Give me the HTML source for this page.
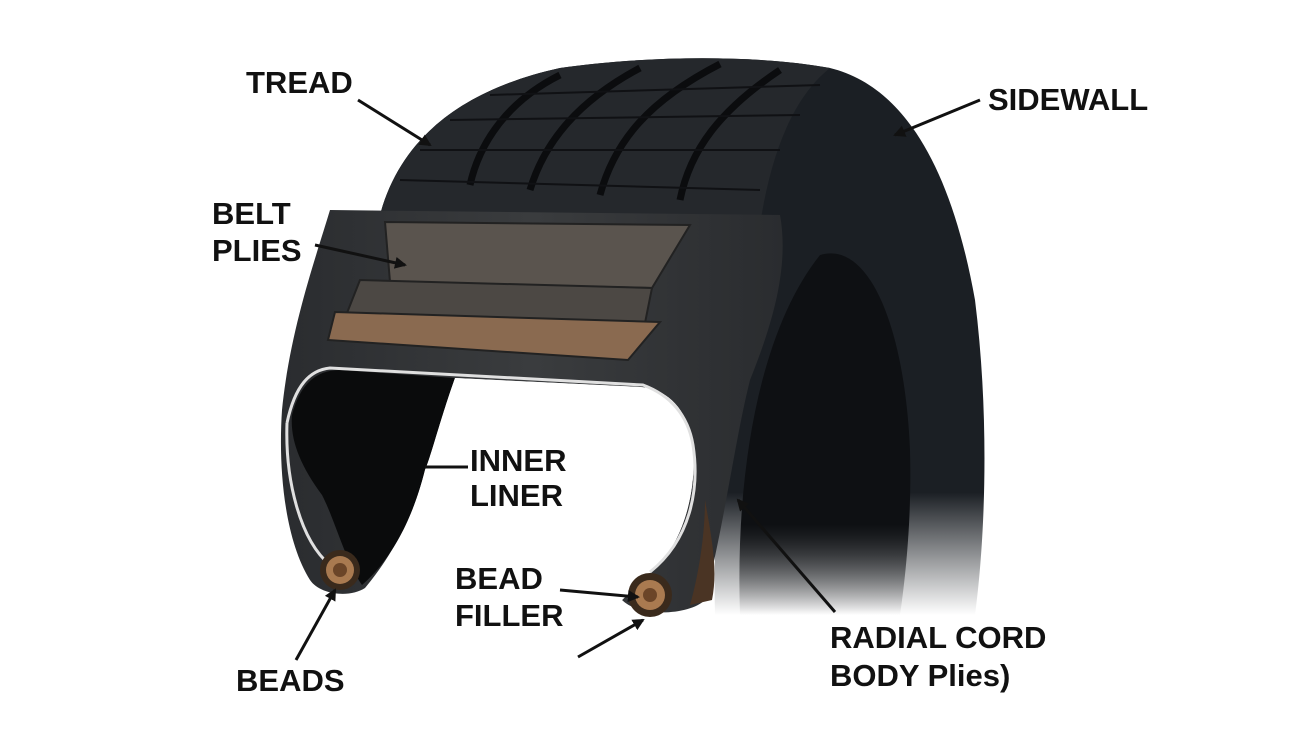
<!DOCTYPE html>
<html><head><meta charset="utf-8"><style>
html,body{margin:0;padding:0;background:#fff;}
svg{display:block}
text{font-family:"Liberation Sans",sans-serif;font-weight:bold;font-size:31px;fill:#111}
</style></head><body>
<svg width="1300" height="742" viewBox="0 0 1300 742" xmlns="http://www.w3.org/2000/svg">
<defs>
<linearGradient id="fade" x1="0" y1="0" x2="0" y2="1">
<stop offset="0.78" stop-color="#1b1f24"/><stop offset="1" stop-color="#1b1f24" stop-opacity="0"/>
</linearGradient>
<linearGradient id="fade2" x1="0" y1="0" x2="0" y2="1">
<stop offset="0.75" stop-color="#0e1013"/><stop offset="1" stop-color="#0e1013" stop-opacity="0"/>
</linearGradient>
<linearGradient id="carc" x1="0" y1="0" x2="1" y2="0">
<stop offset="0" stop-color="#2a2c2f"/><stop offset="0.5" stop-color="#3a3c3e"/><stop offset="1" stop-color="#2a2c2f"/>
</linearGradient>
<marker id="ah" markerWidth="12" markerHeight="12" refX="10" refY="6" orient="auto" markerUnits="userSpaceOnUse"><path d="M0,0 L12,6 L0,12 z" fill="#111"/></marker>
</defs>
<!-- sidewall / outer tire -->
<path d="M380,215 C400,140 460,90 560,68 C650,55 760,55 830,68 C900,85 950,160 975,300 C990,420 985,540 975,615 L715,615 C712,500 725,380 760,300 Z" fill="url(#fade)"/>
<path d="M740,615 C735,470 760,330 820,255 C870,240 905,330 910,450 C912,520 905,580 900,615 Z" fill="url(#fade2)"/>
<!-- tread -->
<path d="M380,215 C400,140 460,90 560,68 C650,55 760,55 830,68 C790,100 770,160 760,225 L380,215 Z" fill="#25282c"/>
<g stroke="#0b0c0e" stroke-width="7" fill="none">
<path d="M470,185 C480,140 510,100 560,75"/>
<path d="M530,190 C545,140 580,100 640,68"/>
<path d="M600,195 C615,140 650,100 720,64"/>
<path d="M680,200 C690,150 720,110 780,70"/>
</g>
<g stroke="#101114" stroke-width="2" fill="none">
<path d="M400,180 L760,190"/><path d="M420,150 L780,150"/><path d="M450,120 L800,115"/><path d="M490,95 L820,85"/>
</g>
<!-- carcass -->
<path d="M330,210 L780,215 C790,270 770,330 750,380 C735,440 725,520 705,600 C690,615 640,618 622,600 L650,573 C690,540 700,470 690,430 C680,400 660,388 640,387 L455,378 C440,420 430,460 425,470 C410,530 380,570 365,588 C350,598 320,595 310,580 C285,540 278,470 282,410 C290,330 315,260 330,210 Z" fill="url(#carc)"/>
<path d="M705,500 C712,540 718,570 712,600 L690,605 C700,570 705,530 705,500Z" fill="#4a3424"/>
<!-- inner liner dark left -->
<path d="M292,415 C300,385 315,370 340,370 L455,378 C440,420 430,460 425,470 C410,530 385,565 362,585 C345,560 335,520 322,495 C300,465 290,440 292,415 Z" fill="#0a0b0c"/>
<path d="M455,378 L640,387 C660,388 680,400 690,430 C700,470 690,540 650,573 L622,600 L365,600 C385,565 410,530 425,470 C430,460 440,420 455,378Z" fill="#fff"/>
<g stroke="#e0e0e0" stroke-width="3" fill="none">
<path d="M287,423 C295,385 310,370 330,368 L643,385 C670,395 688,415 693,445 C700,490 690,540 650,572"/>
<path d="M287,423 C285,480 300,540 330,565"/>
</g>
<!-- belts -->
<path d="M385,222 L690,225 L652,288 L390,282 Z" fill="#5a544e" stroke="#222" stroke-width="2"/>
<path d="M360,280 L652,288 L645,323 L345,318 Z" fill="#4c4844" stroke="#222" stroke-width="2"/>
<path d="M335,312 L660,322 L628,360 L328,340 Z" fill="#8a6a50" stroke="#222" stroke-width="2"/>
<!-- beads -->
<circle cx="340" cy="570" r="20" fill="#3a2a1c"/><circle cx="340" cy="570" r="14" fill="#a97a50"/><circle cx="340" cy="570" r="7" fill="#6b4528"/>
<circle cx="650" cy="595" r="22" fill="#3a2a1c"/><circle cx="650" cy="595" r="15" fill="#a97a50"/><circle cx="650" cy="595" r="7" fill="#6b4528"/>
<!-- arrows -->
<g stroke="#111" stroke-width="3" fill="none" marker-end="url(#ah)">
<line x1="358" y1="100" x2="430" y2="145"/>
<line x1="980" y1="100" x2="895" y2="135"/>
<line x1="315" y1="245" x2="405" y2="265"/>
<line x1="560" y1="590" x2="638" y2="597"/>
<line x1="296" y1="660" x2="335" y2="590"/>
<line x1="578" y1="657" x2="643" y2="620"/>
<line x1="835" y1="612" x2="738" y2="500"/>
</g>
<line x1="468" y1="467" x2="425" y2="467" stroke="#111" stroke-width="3"/>
<!-- labels -->
<text x="246" y="93">TREAD</text>
<text x="988" y="110">SIDEWALL</text>
<text x="212" y="224">BELT</text>
<text x="212" y="261">PLIES</text>
<text x="470" y="471">INNER</text>
<text x="470" y="506">LINER</text>
<text x="455" y="589">BEAD</text>
<text x="455" y="626">FILLER</text>
<text x="236" y="691">BEADS</text>
<text x="830" y="648">RADIAL CORD</text>
<text x="830" y="686">BODY Plies)</text>
</svg>
</body></html>
